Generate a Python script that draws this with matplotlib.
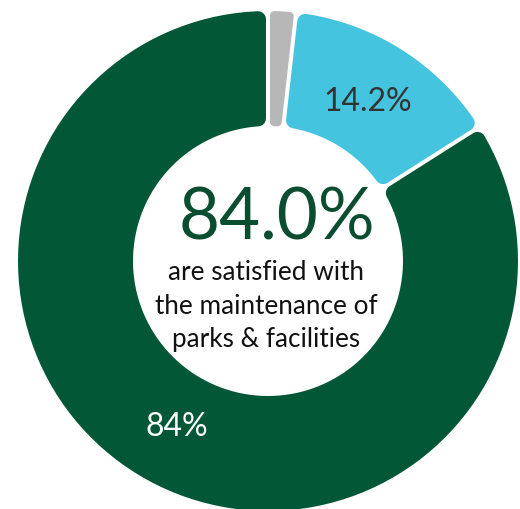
import numpy as np
import matplotlib
matplotlib.use("Agg")
import matplotlib.pyplot as plt
from matplotlib.patches import Polygon

# Survey result shares, drawn clockwise from 12 o'clock
segments = ["No opinion", "Dissatisfied", "Satisfied"]
shares = [1.8, 14.2, 84.0]
colors = ["#b7b7b7", "#44c4de", "#025737"]
slice_labels = ["", "14.2%", "84%"]
label_colors = ["#333333", "#333333", "#ffffff"]
headline = "84.0%"
caption = "are satisfied with\nthe maintenance of\nparks & facilities"

W, H, DPI = 520, 510, 100
FONT = ["Lato", "DejaVu Sans"]

fig = plt.figure(figsize=(W / DPI, H / DPI), dpi=DPI)
ax = fig.add_axes([0, 0, 1, 1])
px = 250.0            # pixels per unit radius
cx, cy = 268, 262     # ring centre, pixels from the top-left corner
ax.set_xlim(-cx / px, (W - cx) / px)
ax.set_ylim(-(H - cy) / px, cy / px)
ax.set_aspect("equal")
ax.axis("off")

r_out, r_in = 1.0, 0.54
half_gap = 2.0 / px
corner = 8.0 / px


def rounded_sector(t1, t2, corner):
    """Annular sector between clockwise angles t1..t2 (radians from top),
    shrunk so that a round-joined stroke of width 2*corner restores its size."""
    span = t2 - t1
    c = corner
    while True:
        d = half_gap + c
        a_in = np.arcsin(min(d / (r_in + c), 1.0))
        if 2 * a_in < span * 0.85 or c < 1e-3:
            break
        c *= 0.9
    d = half_gap + c
    ro, ri = r_out - c, r_in + c
    a_out = np.arcsin(d / ro)
    a_in = np.arcsin(d / ri)
    to = np.linspace(t1 + a_out, t2 - a_out, 120)
    ti = np.linspace(t2 - a_in, t1 + a_in, 120)
    xs = np.concatenate([ro * np.sin(to), ri * np.sin(ti)])
    ys = np.concatenate([ro * np.cos(to), ri * np.cos(ti)])
    return np.column_stack([xs, ys]), c


fractions = np.array(shares) / np.sum(shares)
ends = np.cumsum(fractions) * 2 * np.pi
starts = ends - fractions * 2 * np.pi

for s, e, col, lab, lcol in zip(starts, ends, colors, slice_labels, label_colors):
    verts, c = rounded_sector(s, e, corner)
    lw = 2 * c * px * 72.0 / DPI
    ax.add_patch(Polygon(verts, closed=True, facecolor=col, edgecolor=col,
                         linewidth=lw, joinstyle="round"))
    if lab:
        mid = (s + e) / 2
        rl = (r_in + r_out) / 2 * 0.98
        ax.text(rl * np.sin(mid), rl * np.cos(mid), lab, color=lcol,
                ha="center", va="center", fontsize=23, family=FONT)

ax.text((277 - cx) / px, (cy - 219) / px, headline, color="#0b4d30",
        ha="center", va="center", fontsize=51, family=FONT)

# caption lines, centred under the headline
line_y = [273, 307, 340]
for text, ly in zip(caption.split("\n"), line_y):
    ax.text((266 - cx) / px, (cy - ly) / px, text, color="#111111",
            ha="center", va="center", fontsize=18.8, family=FONT)

fig.savefig("out.png", dpi=DPI, facecolor="white")
